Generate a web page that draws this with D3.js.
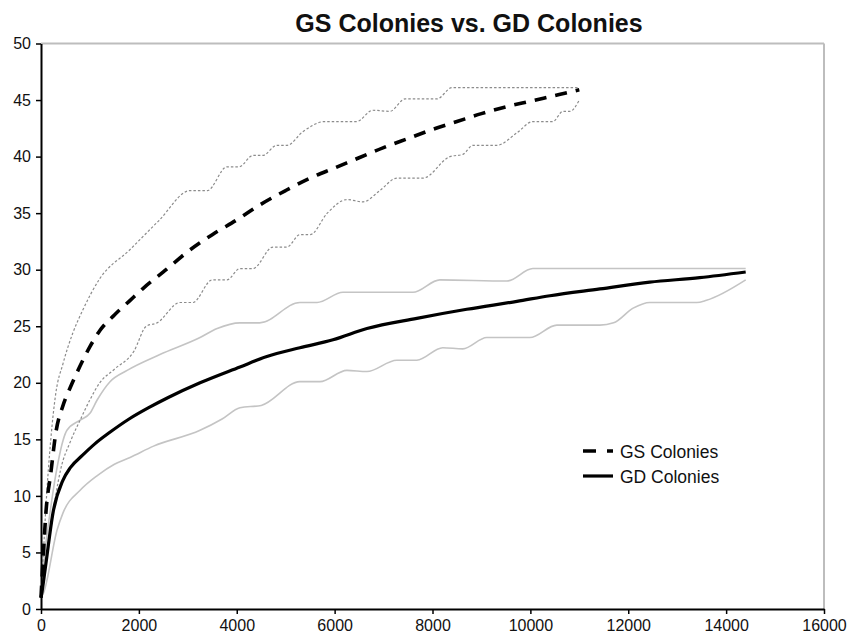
<!DOCTYPE html>
<html>
<head>
<meta charset="utf-8">
<script src="https://cdn.jsdelivr.net/npm/d3@7"></script>
<style>
  html, body { margin: 0; padding: 0; background: #fff; }
  svg { display: block; font-family: "Liberation Sans", Arial, Helvetica, sans-serif; }
</style>
</head>
<body>
<svg id="chart" width="847" height="634"></svg>
<script>
// ---- Data ----
const chartTitle = "GS Colonies vs. GD Colonies";
const seriesNames = ["GS Colonies", "GD Colonies"];
const xTicks = [0, 2000, 4000, 6000, 8000, 10000, 12000, 14000, 16000];
const yTicks = [0, 5, 10, 15, 20, 25, 30, 35, 40, 45, 50];

// GS Colonies mean (dashed black)
const gsMean = [[0,1],[50,5],[100,8.5],[200,12],[300,15.5],[450,18],[600,19.6],[800,21.5],[1000,23.2],[1200,24.6],[1500,26],[1800,27.2],[2100,28.4],[2500,29.8],[3000,31.6],[3500,33.1],[4000,34.4],[4500,35.8],[5000,37.0],[5500,38.1],[6000,39.0],[6500,39.9],[7000,40.8],[7500,41.6],[8000,42.4],[8500,43.1],[9000,43.8],[9500,44.4],[10000,44.9],[10500,45.4],[11000,45.9]];
// GS Colonies upper bound (gray dotted)
const gsUpper = [[0,1],[50,5],[100,9],[200,15],[300,19],[450,21.7],[650,24.4],[850,26.4],[1200,29.2],[1800,31.7],[2400,34.3],[3050,37],[3400,37],[3800,39.1],[4050,39.1],[4330,40.1],[4530,40.1],[4820,41],[5030,41],[5350,42.2],[5800,43.1],[6450,43.1],[6780,44.1],[7130,44],[7440,45.1],[8090,45.1],[8400,46.1],[11000,46.1]];
// GS Colonies lower bound (gray dotted)
const gsLower = [[0,1],[100,4],[200,7],[300,10],[400,12.3],[600,14.8],[800,16.7],[1000,18.5],[1200,20],[1500,21.2],[1900,22.8],[2150,25],[2370,25.3],[2840,27.1],[3100,27.1],[3500,29.1],[3800,29.1],[4066,30.1],[4330,30.1],[4740,32],[5025,32],[5290,33.1],[5500,33.1],[5850,35],[6250,36.2],[6580,36],[6926,37],[7273,38.1],[7804,38.1],[8356,40.0],[8622,40.2],[8826,41],[9316,41],[9725,42.1],[10052,43.1],[10460,43.1],[10665,44.0],[10808,44.0],[11000,45.0]];

// GD Colonies mean (solid black)
const gdMean = [[0,1],[20,1.5],[100,4],[245,8.5],[450,11.4],[600,12.5],[850,13.6],[1100,14.6],[1400,15.6],[1800,16.8],[2200,17.8],[2600,18.7],[3250,20],[4066,21.4],[4600,22.3],[5290,23.1],[5966,23.8],[6660,24.8],[7680,25.7],[8700,26.5],[9725,27.2],[10400,27.7],[11420,28.3],[12440,28.9],[13460,29.3],[14400,29.8]];
// GD Colonies upper bound (light gray solid)
const gdUpper = [[0,1],[50,3.7],[200,9],[350,13],[450,14.9],[530,15.8],[800,16.7],[1000,17.3],[1150,18.5],[1410,20.1],[1760,21.1],[2430,22.5],[3250,24],[3600,24.8],[4066,25.3],[4470,25.3],[5290,27.1],[5640,27.1],[6170,28],[7600,28],[8150,29.1],[9520,29],[10050,30.1],[14400,30.1]];
// GD Colonies lower bound (light gray solid)
const gdLower = [[0,1],[50,1.4],[330,7],[450,8.5],[800,10.5],[1150,11.8],[1500,12.8],[1820,13.4],[2300,14.4],[3250,15.8],[3700,16.8],[4066,17.8],[4500,18],[5290,20.1],[5700,20.1],[6250,21.1],[6660,21],[7270,22],[7680,22],[8210,23.1],[8620,23],[9110,24],[9990,24],[10540,25.1],[11420,25.1],[11700,25.3],[12100,26.6],[12440,27.1],[13400,27.1],[13600,27.3],[14400,29.1]];

// ---- Layout ----
const svg = d3.select("#chart");
const plotLeft = 41, plotRight = 824, plotTop = 43.5, plotBottom = 609;

const x = d3.scaleLinear().domain([0, 16000]).range([plotLeft, plotRight]);
const y = d3.scaleLinear().domain([0, 50]).range([plotBottom, plotTop]);

// plot frame (gray top/right)
svg.append("line").attr("x1", plotLeft).attr("x2", plotRight).attr("y1", plotTop).attr("y2", plotTop)
  .attr("stroke", "#bdbdbd").attr("stroke-width", 2);
svg.append("line").attr("x1", plotRight).attr("x2", plotRight).attr("y1", plotTop).attr("y2", plotBottom)
  .attr("stroke", "#bdbdbd").attr("stroke-width", 2);

const line = d3.line().x(d => x(d[0])).y(d => y(d[1])).curve(d3.curveMonotoneX);

// bounds
svg.append("path").datum(gdUpper).attr("d", line).attr("fill", "none")
  .attr("stroke", "#c4c4c4").attr("stroke-width", 1.6);
svg.append("path").datum(gdLower).attr("d", line).attr("fill", "none")
  .attr("stroke", "#c4c4c4").attr("stroke-width", 1.6);
svg.append("path").datum(gsUpper).attr("d", line).attr("fill", "none")
  .attr("stroke", "#8c8c8c").attr("stroke-width", 1.2).attr("stroke-dasharray", "2.5,2");
svg.append("path").datum(gsLower).attr("d", line).attr("fill", "none")
  .attr("stroke", "#8c8c8c").attr("stroke-width", 1.2).attr("stroke-dasharray", "2.5,2");

// means
svg.append("path").datum(gdMean).attr("d", line).attr("fill", "none")
  .attr("stroke", "#000").attr("stroke-width", 3.2);
svg.append("path").datum(gsMean).attr("d", line).attr("fill", "none")
  .attr("stroke", "#000").attr("stroke-width", 3.6).attr("stroke-dasharray", "12,9");

// axes
const xAxis = d3.axisBottom(x).tickValues(xTicks).tickFormat(d3.format("d"))
  .tickSize(5).tickSizeOuter(0).tickPadding(6);
const yAxis = d3.axisLeft(y).tickValues(yTicks).tickFormat(d3.format("d"))
  .tickSize(5).tickSizeOuter(0).tickPadding(5);

const gx = svg.append("g").attr("transform", `translate(0,${plotBottom})`).call(xAxis);
const gy = svg.append("g").attr("transform", `translate(${plotLeft},0)`).call(yAxis);
[gx, gy].forEach(g => {
  g.attr("font-size", null).attr("font-family", null);
  g.select(".domain").attr("stroke", "#000").attr("stroke-width", 2);
  g.selectAll(".tick line").attr("stroke", "#000").attr("stroke-width", 1.5);
  g.selectAll(".tick text").attr("fill", "#111").style("font-size", "16px")
    .style("font-family", "'Liberation Sans', Arial, sans-serif");
});

// title
svg.append("text").attr("x", 469).attr("y", 32).attr("text-anchor", "middle")
  .style("font-size", "25px").style("font-weight", "bold").attr("fill", "#111")
  .text(chartTitle);

// legend
const legend = svg.append("g");
const legendStyles = [
  { dash: "13,11", width: 3.6 },
  { dash: null, width: 3.2 }
];
seriesNames.forEach((name, i) => {
  const ly = 451 + i * 25;
  const l = legend.append("line").attr("x1", 583).attr("x2", 613).attr("y1", ly).attr("y2", ly)
    .attr("stroke", "#000").attr("stroke-width", legendStyles[i].width);
  if (legendStyles[i].dash) l.attr("stroke-dasharray", legendStyles[i].dash);
  legend.append("text").attr("x", 620).attr("y", ly + 6.5)
    .style("font-size", "17.5px").attr("fill", "#111").text(name);
});
</script>
</body>
</html>
